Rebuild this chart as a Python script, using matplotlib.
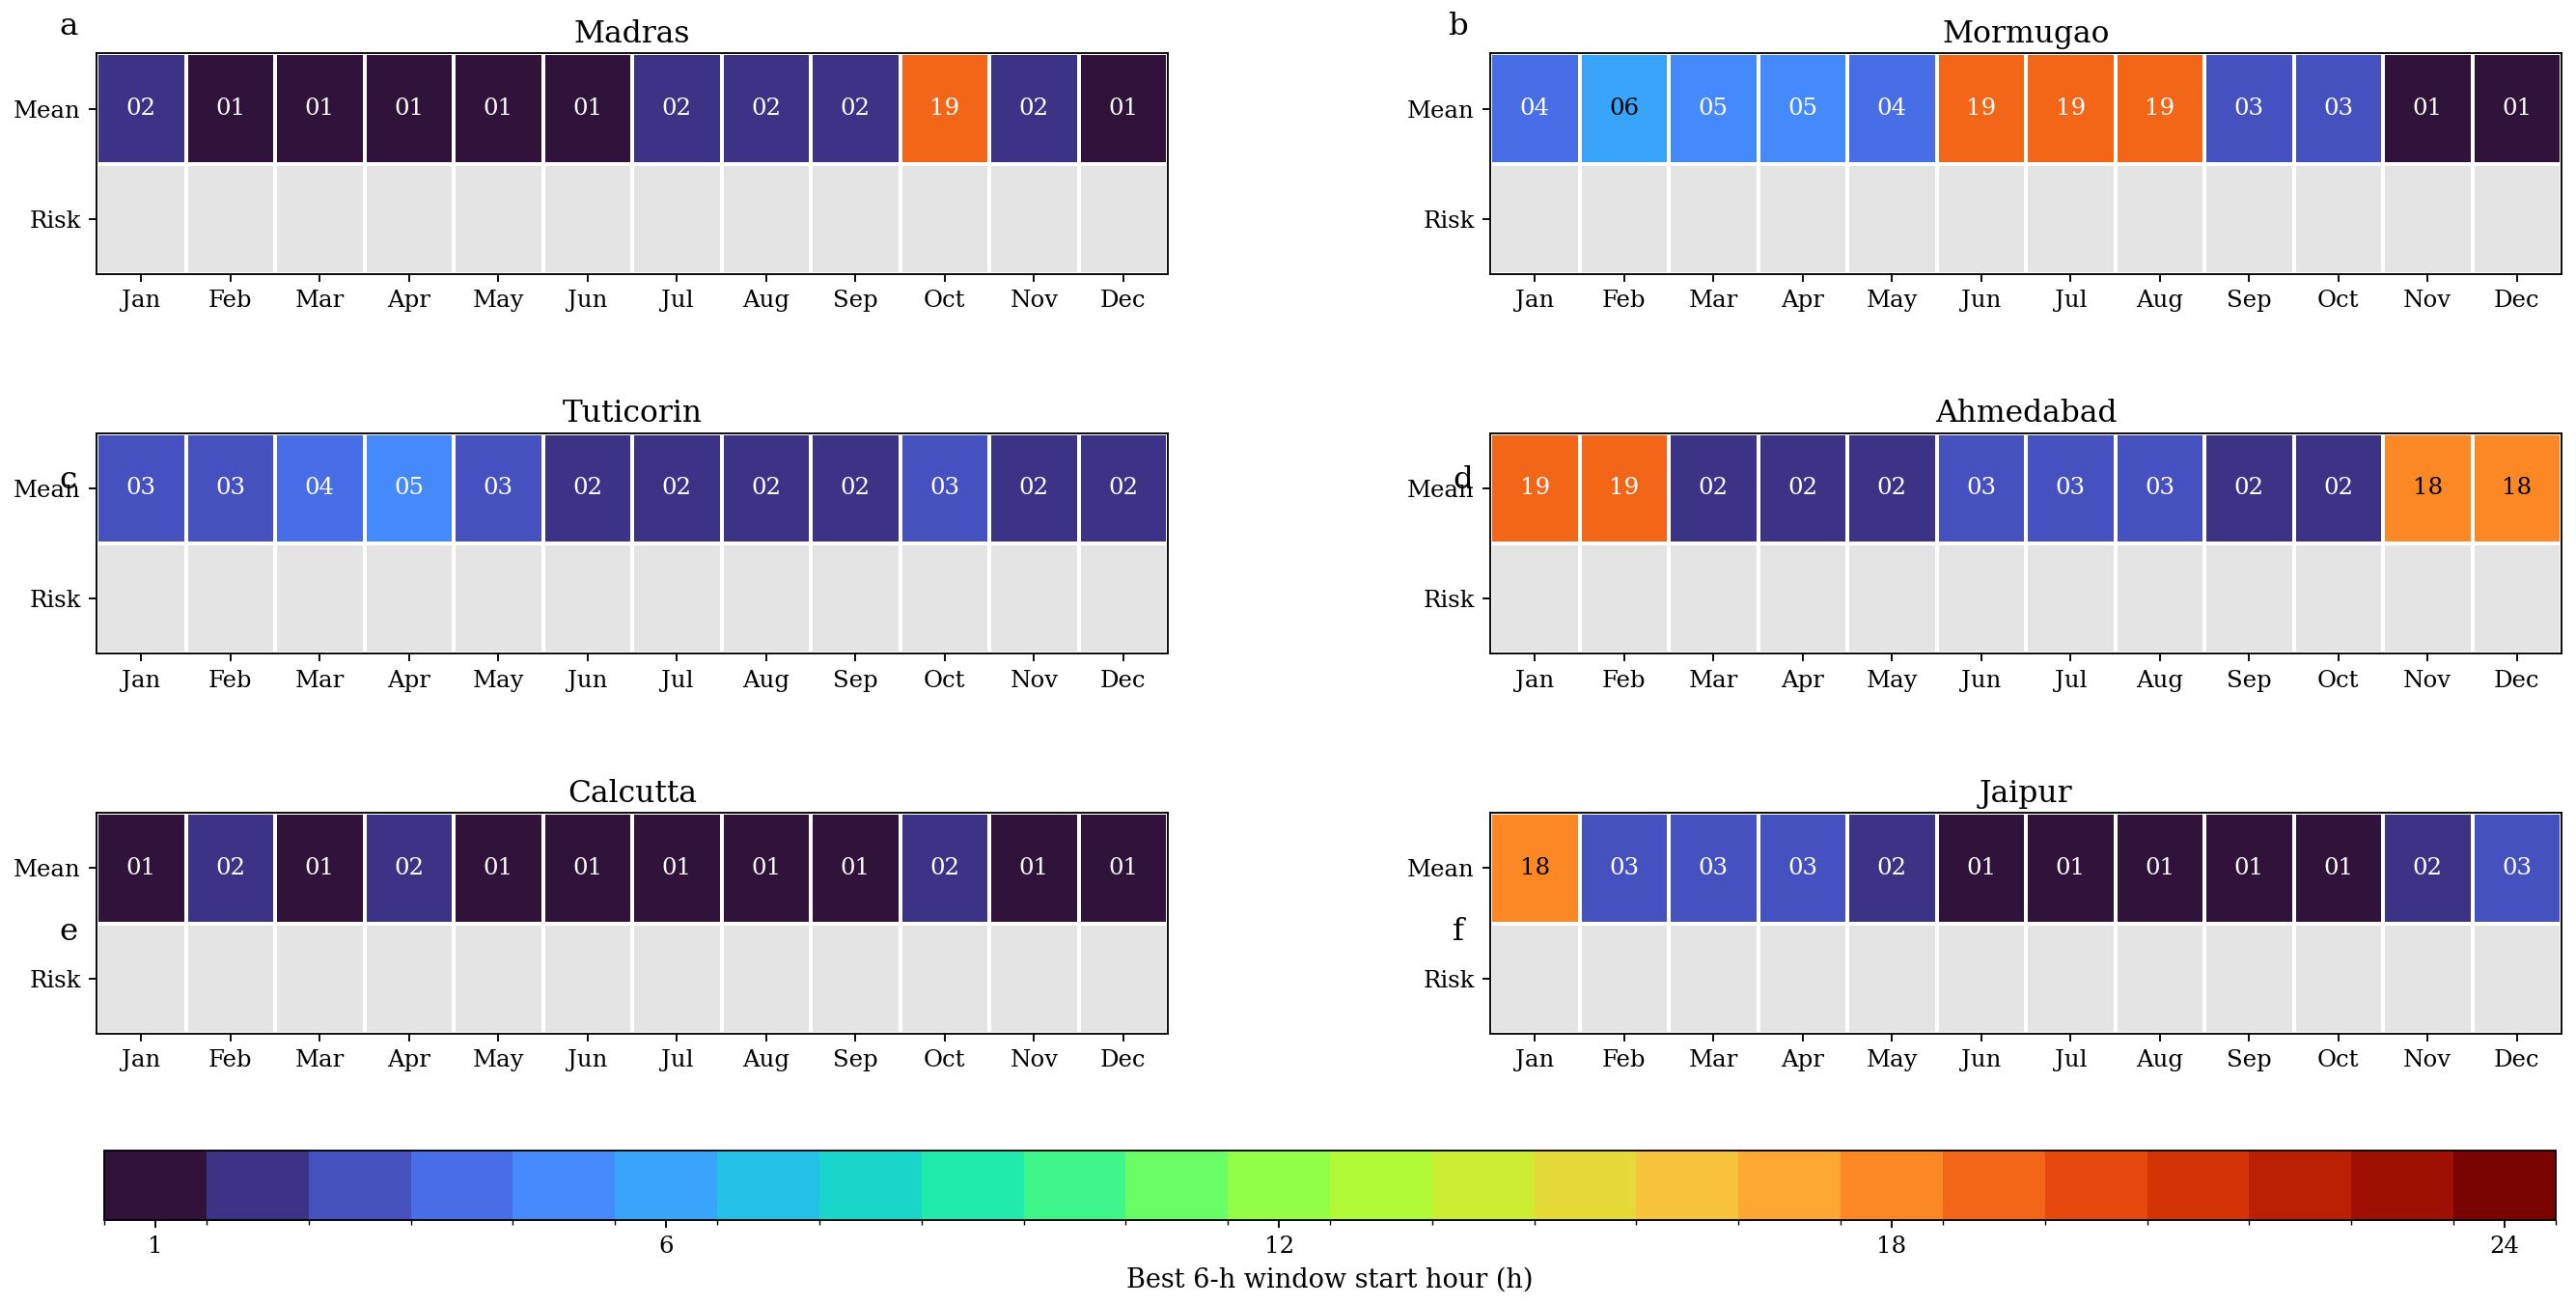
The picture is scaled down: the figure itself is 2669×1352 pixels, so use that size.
import numpy as np
import matplotlib
matplotlib.use("Agg")
import matplotlib.pyplot as plt
from matplotlib.colors import ListedColormap, BoundaryNorm

plt.rcParams['font.family'] = 'DejaVu Serif'

months = ["Jan", "Feb", "Mar", "Apr", "May", "Jun", "Jul", "Aug", "Sep", "Oct", "Nov", "Dec"]
rows = ["Mean", "Risk"]

stations = ["Madras", "Mormugao", "Tuticorin", "Ahmedabad", "Calcutta", "Jaipur"]
panel_letters = ["a", "b", "c", "d", "e", "f"]

madras = [2, 1, 1, 1, 1, 1, 2, 2, 2, 19, 2, 1]
mormugao = [4, 6, 5, 5, 4, 19, 19, 19, 3, 3, 1, 1]
tuticorin = [3, 3, 4, 5, 3, 2, 2, 2, 2, 3, 2, 2]
ahmedabad = [19, 19, 2, 2, 2, 3, 3, 3, 2, 2, 18, 18]
calcutta = [1, 2, 1, 2, 1, 1, 1, 1, 1, 2, 1, 1]
jaipur = [18, 3, 3, 3, 2, 1, 1, 1, 1, 1, 2, 3]
mean_hours = [madras, mormugao, tuticorin, ahmedabad, calcutta, jaipur]

cb_ticks = [1, 6, 12, 18, 24]

# discrete turbo, one colour per hour
cmap = ListedColormap(plt.get_cmap("turbo")(np.linspace(0, 1, 24)))
cmap.set_bad("#e4e4e4")
bounds = np.arange(0.5, 25.5, 1)
norm = BoundaryNorm(bounds, cmap.N)

W, H = 2669, 1352
fig = plt.figure(figsize=(W / 167, H / 167), dpi=167)

col_x = [(0.0375, 0.4534), (0.5785, 0.9944)]
row_y = [(0.790, 0.959), (0.499, 0.668), (0.208, 0.377)]
letter_pos = [(0.0266, 0.980), (0.566, 0.980), (0.0266, 0.632), (0.568, 0.632),
              (0.0266, 0.286), (0.566, 0.286)]

for i, (name, vals) in enumerate(zip(stations, mean_hours)):
    x0, x1 = col_x[i % 2]
    y0, y1 = row_y[i // 2]
    ax = fig.add_axes([x0, y0, x1 - x0, y1 - y0])

    data = np.full((2, 12), np.nan)
    data[0] = vals
    masked = np.ma.masked_invalid(data)
    ax.pcolormesh(np.arange(13), np.arange(3), masked, cmap=cmap, norm=norm,
                  edgecolors="white", linewidth=1.6)
    ax.set_xlim(0, 12)
    ax.set_ylim(2, 0)

    for j, v in enumerate(vals):
        txt_color = "black" if 6 <= v <= 18 else "white"
        ax.text(j + 0.5, 0.5, f"{v:02d}", ha="center", va="center",
                color=txt_color, fontsize=10.5)

    ax.set_xticks(np.arange(12) + 0.5)
    ax.set_xticklabels(months, fontsize=10.5)
    ax.set_yticks([0.5, 1.5])
    ax.set_yticklabels(rows, fontsize=10.5)
    ax.set_title(name, fontsize=13.5, pad=5)

    fig.text(letter_pos[i][0], letter_pos[i][1], panel_letters[i],
             fontsize=14, ha="center", va="center")

cax = fig.add_axes([0.0405, 0.0651, 0.9921 - 0.0405, 0.1183 - 0.0651])
sm = plt.cm.ScalarMappable(cmap=cmap, norm=norm)
cb = fig.colorbar(sm, cax=cax, orientation="horizontal", boundaries=bounds)
cb.set_ticks(cb_ticks)
cb.set_ticklabels([str(t) for t in cb_ticks])
cb.ax.xaxis.set_ticks(bounds, minor=True)
cb.ax.tick_params(which="minor", length=2)
cb.ax.tick_params(which="major", labelsize=10.5)
cb.set_label("Best 6-h window start hour (h)", fontsize=11.7)

fig.savefig("out.png", dpi=167)
